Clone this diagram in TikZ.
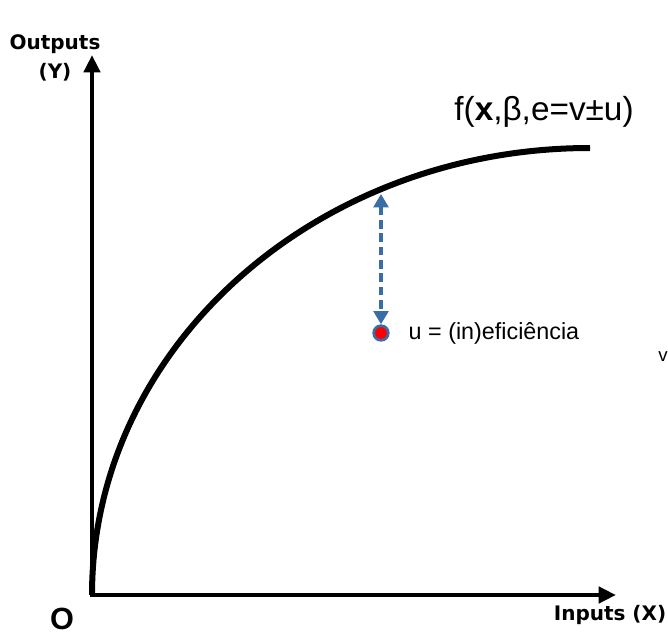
\documentclass[tikz,border=0pt]{standalone}
\usepackage{fontspec}
\setmainfont{Liberation Sans}
\newfontfamily\axisfont{DejaVu Sans}
\usetikzlibrary{arrows.meta}
\definecolor{errblue}{RGB}{58,108,165}
\tikzset{
  axislab/.style={font=\axisfont\bfseries\fontsize{15}{22}\selectfont, align=center},
  errarrow/.style={errblue, line width=2.5pt, dash pattern=on 6.5pt off 3.5pt,
    {Triangle[length=10pt,width=11pt]}-{Triangle[length=10pt,width=11pt]}},
}
\begin{document}
\begin{tikzpicture}[x=0.75pt,y=0.75pt]
\useasboundingbox (0,0) rectangle (668,637);
\coordinate (O) at (92,42);
\coordinate (ytop) at (92,582);
\coordinate (xend) at (616,42);
\draw[line width=3.6pt,{Triangle[length=13pt,width=12pt]}-{Triangle[length=13pt,width=12pt]}] (ytop) -- (O) -- (xend);
\draw[line width=4.5pt] (O) arc[start angle=180,end angle=90,x radius=498,y radius=447];
\coordinate (fpt) at (381,443);
\node[circle, fill=red, draw=errblue, line width=2pt, minimum size=11pt, inner sep=0] (dot) at (381,304) {};
\draw[errarrow] (fpt) -- (dot);
\node[anchor=west, font=\fontsize{17.5}{20}\selectfont] (ulab) at (404,304) {u = (in)eficiência};
\node[font=\fontsize{25}{30}\selectfont] (flab) at (544,525) {f(\textbf{x},β,e=v±u)};
\node[axislab] (ylab) at (55,579) {Outputs\\(Y)};
\node[axislab] (xlab) at (610,22) {Inputs (X)};
\node[font=\bfseries\fontsize{23}{26}\selectfont] (olab) at (62,18) {O};
\node[font=\fontsize{14}{16}\selectfont] (vlab) at (663,280) {v};
\end{tikzpicture}
\end{document}
